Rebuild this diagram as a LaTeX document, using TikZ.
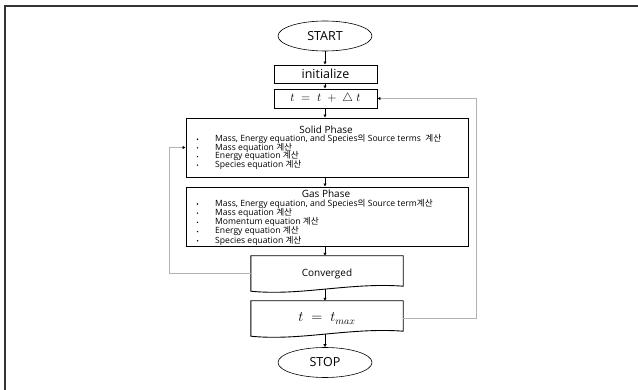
\documentclass[tikz,border=0pt]{standalone}
\usepackage{fontspec}
\setmainfont{Open Sans}
\newfontfamily\kr{Noto Sans CJK KR}
\newcommand{\ks}[1]{{\kr #1}}
\usetikzlibrary{arrows.meta,shapes.geometric,calc}
\begin{document}
\begin{tikzpicture}[x=1pt,y=-1pt,
  box/.style={draw=black,line width=0.9pt,inner sep=0pt},
  term/.style={draw=black,line width=0.6pt,ellipse,minimum width=94pt,minimum height=30pt,inner sep=0pt,font=\fontsize{12.5}{12.5}\selectfont},
  flow/.style={-{Latex[length=3pt,width=3.5pt]},line width=0.6pt,black},
  back/.style={draw=gray!60,line width=0.6pt,-{Latex[length=3pt,width=3.5pt,black]}},
  item/.style={anchor=west,inner sep=0pt,text height=5.8pt,text depth=1.2pt,font=\fontsize{8.6}{8.6}\selectfont},
  head/.style={inner sep=0pt,text height=7pt,text depth=0.8pt,font=\fontsize{10}{10}\selectfont}]
\useasboundingbox (0,0) rectangle (638,390);
\draw[line width=1.6pt,black!80] (5,390) -- (5,6) -- (638,6);

% terminals and boxes
\node[term] (start) at (325,36) {START};
\node[box,minimum width=103pt,minimum height=18pt,font=\fontsize{12.5}{12.5}\selectfont] (init) at (325.5,74) {initialize};
\node[box,minimum width=103pt,minimum height=19pt,font=\fontsize{13}{13}\selectfont] (tstep) at (325.5,98.5) {$t\;=\;t\;+\;\triangle\;t$};
\node[box,minimum width=282pt,minimum height=59pt] (solid) at (327,147.5) {};
\node[box,minimum width=282pt,minimum height=59pt] (gas) at (327,216.5) {};

% Solid phase text
\node[head] (sh) at (326,130) {Solid Phase};
\node[item] (s1) at (215,139.3) {Mass, Energy equation, and Species\ks{의} Source terms\ \ \ks{계산}};
\node[item] (s2) at (215,147.9) {Mass equation \ks{계산}};
\node[item] (s3) at (215,156.6) {Energy equation \ks{계산}};
\node[item] (s4) at (215,165.2) {Species equation \ks{계산}};
\foreach \n in {s1,s2,s3,s4}{\fill (197.5,0 |- \n.west) circle (0.8pt);}

% Gas phase text
\node[head] (gh) at (326,194) {Gas Phase};
\node[item] (g1) at (215,204) {Mass, Energy equation, and Species\ks{의} Source term\ks{계산}};
\node[item] (g2) at (215,213.2) {Mass equation \ks{계산}};
\node[item] (g3) at (215,222.4) {Momentum equation \ks{계산}};
\node[item] (g4) at (215,231.6) {Energy equation \ks{계산}};
\node[item] (g5) at (215,240.8) {Species equation \ks{계산}};
\foreach \n in {g1,g2,g3,g4,g5}{\fill (197.5,0 |- \n.west) circle (0.8pt);}

% document shapes
\node[inner sep=0pt,minimum width=152pt,minimum height=35pt,font=\fontsize{10}{10}\selectfont] (conv) at (327,273.5) {Converged};
\draw[line width=0.9pt] (conv.south west) -- (conv.north west) -- (conv.north east) -- ($(conv.south east)+(0,-5)$)
  .. controls ($(conv.south east)+(-53,-9)$) and ($(conv.south west)+(49,5)$) .. coordinate[pos=0.5] (cb) (conv.south west) -- cycle;
\node[inner sep=0pt,minimum width=152pt,minimum height=35pt,font=\fontsize{14}{14}\selectfont] (tmax) at (327,318.5) {$t\;=\;t_{max}$};
\draw[line width=0.9pt] (tmax.south west) -- (tmax.north west) -- (tmax.north east) -- ($(tmax.south east)+(0,-5)$)
  .. controls ($(tmax.south east)+(-53,-9)$) and ($(tmax.south west)+(49,5)$) .. coordinate[pos=0.5] (tb) (tmax.south west) -- cycle;

\node[term] (stop) at (325,362.5) {STOP};

% main flow
\draw[flow] (start) -- (start |- init.north);
\draw[flow] (init.south -| start) -- (start |- tstep.north);
\draw[flow] (tstep.south -| start) -- (start |- solid.north);
\draw[flow] (solid.south -| start) -- (start |- gas.north);
\draw[flow] (gas.south -| start) -- (start |- conv.north);
\draw[flow] (start |- cb) -- (start |- tmax.north);
\draw[flow] (start |- tb) -- (stop);

% loops
\coordinate (lx) at (169,0);
\coordinate (rx) at (476,0);
\draw[back] (conv.west) -- (lx |- conv.west) -- (lx |- solid.west) -- (solid.west);
\draw[back] (tmax.east) -- (rx |- tmax.east) -- (rx |- tstep.east) -- (tstep.east);
\end{tikzpicture}
\end{document}
